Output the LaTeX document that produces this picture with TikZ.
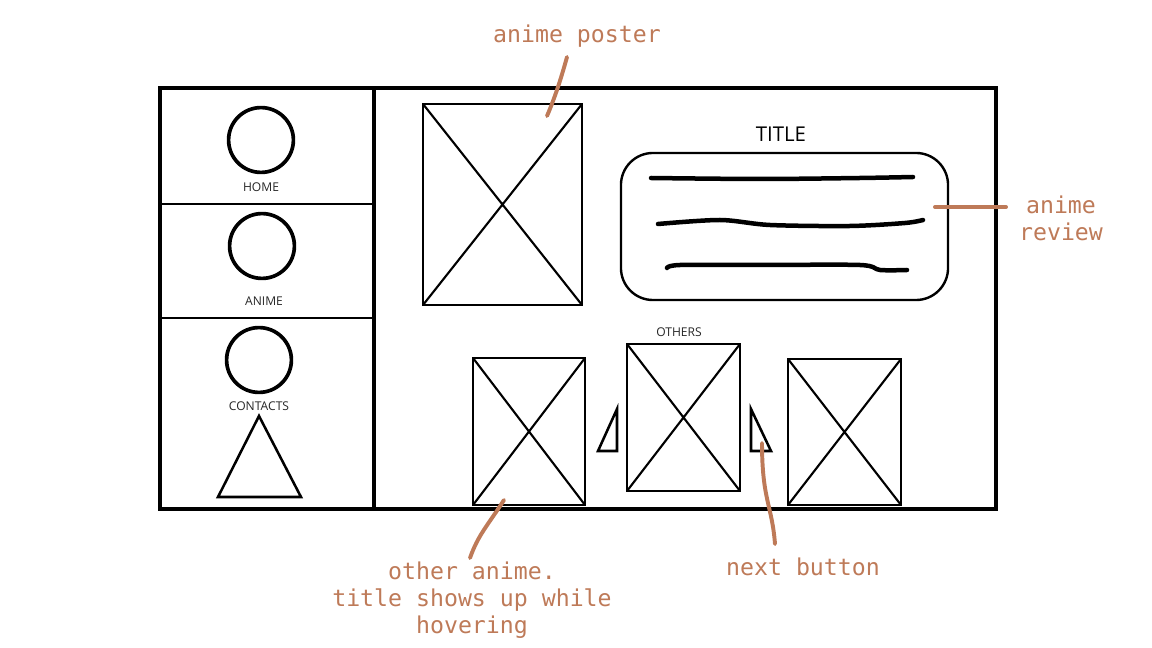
\documentclass[tikz,border=0pt]{standalone}
\usepackage{fontspec}
\setmainfont{Open Sans}
\newfontfamily\notefont{DejaVu Sans Mono}
\usetikzlibrary{positioning}
\definecolor{notebrown}{RGB}{190,122,88}
\tikzset{
  xbox/.style 2 args={draw, line width=1.7pt, inner sep=0pt,
              minimum width=#1, minimum height=#2,
              path picture={\draw[line width=1.5pt]
                (path picture bounding box.north west)--(path picture bounding box.south east)
                (path picture bounding box.north east)--(path picture bounding box.south west);}},
  icon/.style={circle, draw, line width=2.6pt, minimum size=1.62cm, inner sep=0pt},
  lbl/.style={font=\fontsize{8.6}{10}\selectfont, text=black!85, inner sep=0pt},
  note/.style={font=\notefont\fontsize{16.5}{19.4}\selectfont, text=notebrown,
              align=center, inner sep=0pt},
  ptr/.style={notebrown, line width=2.8pt, line cap=round},
  scrib/.style={line width=3.2pt, line cap=round},
}
\begin{document}
\begin{tikzpicture}[x=0.025cm, y=-0.025cm]
  \useasboundingbox (0,0) rectangle (1152,648);
  % page frame and side menu
  \draw[line width=2.8pt] (160,88) rectangle (996,509);
  \draw[line width=2.8pt] (374,88) -- (374,509);
  \draw[line width=1.8pt] (160,204) -- (374,204) (160,318) -- (374,318);
  \node[icon] (home) at (261,140) {};
  \node[icon] (anime) at (262,246) {};
  \node[icon] (contacts) at (259,360) {};
  \node[lbl] (homet) at (261,187) {HOME};
  \node[lbl] (animet) at (264,301) {ANIME};
  \node[lbl] (contactst) at (259,406) {CONTACTS};
  \draw[line width=1.8pt, line join=miter] (259,416) -- (301,497) -- (218,497) -- cycle;
  % poster and review
  \node[xbox={3.975cm}{5.025cm}] (poster) at (502.5,204.5) {};
  \node[font=\fontsize{14.5}{17}\selectfont, inner sep=0pt] (title) at (781,134) {TITLE};
  \node[draw, line width=1.7pt, rounded corners=0.8cm, minimum width=8.175cm,
        minimum height=3.675cm] (review) at (784.5,226.5) {};
  \draw[scrib] plot[smooth] coordinates {(651,178) (760,179) (860,178) (913,177)};
  \draw[scrib] plot[smooth] coordinates {(658,224) (720,220) (770,225) (850,226) (905,223) (923,220)};
  \draw[scrib] plot[smooth] coordinates {(667,268) (680,265) (760,265) (860,265) (880,270) (907,270)};
  % other anime row
  \node[lbl] (otherst) at (679,332) {OTHERS};
  \node[xbox={2.8cm}{3.675cm}] (oth1) at (529,431.5) {};
  \node[xbox={2.825cm}{3.675cm}] (oth2) at (683.5,417.5) {};
  \node[xbox={2.825cm}{3.65cm}] (oth3) at (844.5,432) {};
  \draw[line width=1.8pt, line join=miter] (617,409) -- (617,451) -- (598,451) -- cycle;
  \draw[line width=1.8pt, line join=miter] (751,409) -- (751,451) -- (771,451) -- cycle;
  % notes
  \node[note] (posternote) at (577,36) {anime poster};
  \node[note] (reviewnote) at (1061,218) {anime\\review};
  \node[note] (othernote) at (472,600) {other anime.\\title shows up while\\hovering};
  \node[note] (nextnote) at (803,567) {next button};
  \coordinate (pa) at (547,116);
  \coordinate (pb) at (567,57);
  \coordinate (ra) at (935,207);
  \coordinate (rb) at (1006,207);
  \coordinate (oa) at (504,500);
  \coordinate (ob) at (470,558);
  \coordinate (na) at (762,443);
  \coordinate (nb) at (775,544);
  \draw[ptr] (pa) .. controls (556,95) and (562,75) .. (pb);
  \draw[ptr] (ra) -- (rb);
  \draw[ptr] (oa) .. controls (488,525) and (478,535) .. (ob);
  \draw[ptr] (na) .. controls (762,500) and (772,505) .. (nb);
\end{tikzpicture}
\end{document}
